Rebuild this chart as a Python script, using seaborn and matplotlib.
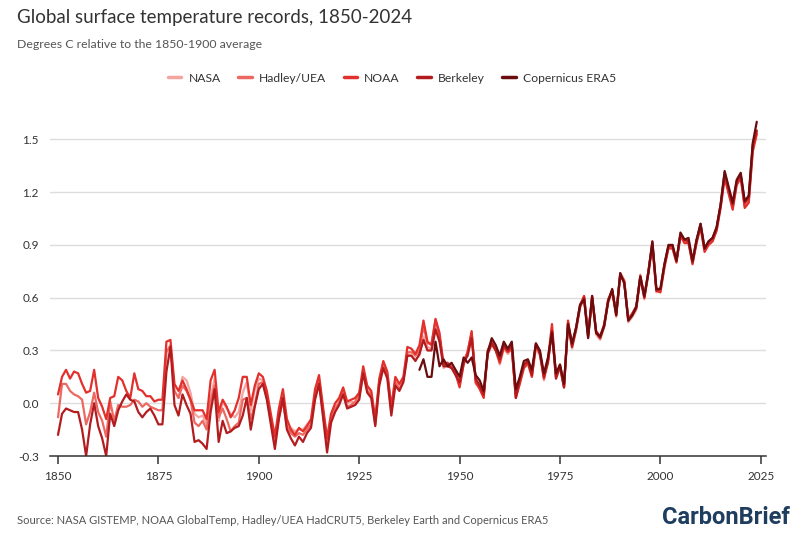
import numpy as np
import pandas as pd
import matplotlib
matplotlib.use("Agg")
import matplotlib.pyplot as plt
import seaborn as sns

# annual anomalies, degrees C relative to 1850-1900
years_full = list(range(1850, 2025))
years_nasa = list(range(1880, 2025))
years_era5 = list(range(1940, 2025))

noaa = [
    0.05, 0.15, 0.19, 0.14, 0.18, 0.17, 0.11, 0.06, 0.07, 0.19,
    0.03, -0.02, -0.09, 0.03, 0.04, 0.15, 0.13, 0.07, 0.03, 0.17,
    0.08, 0.07, 0.04, 0.04, 0.01, 0.02, 0.02, 0.35, 0.36, 0.11,
    0.07, 0.13, 0.08, 0.02, -0.04, -0.04, -0.04, -0.09, 0.13, 0.19,
    -0.05, 0.02, -0.02, -0.08, -0.04, 0.03, 0.15, 0.15, -0.01, 0.10,
    0.17, 0.15, 0.07, -0.06, -0.19, -0.03, 0.08, -0.09, -0.15, -0.18,
    -0.14, -0.16, -0.13, -0.09, 0.08, 0.16, -0.02, -0.20, -0.06, 0.00,
    0.03, 0.09, 0.01, 0.02, 0.03, 0.06, 0.21, 0.10, 0.07, -0.09,
    0.14, 0.24, 0.18, -0.02, 0.15, 0.11, 0.15, 0.32, 0.31, 0.28,
    0.33, 0.47, 0.35, 0.33, 0.48, 0.40, 0.22, 0.23, 0.20, 0.17,
    0.09, 0.22, 0.29, 0.41, 0.12, 0.08, 0.03, 0.30, 0.35, 0.30,
    0.23, 0.32, 0.29, 0.31, 0.03, 0.11, 0.20, 0.23, 0.15, 0.33,
    0.29, 0.14, 0.25, 0.45, 0.16, 0.21, 0.09, 0.47, 0.33, 0.43,
    0.56, 0.61, 0.39, 0.61, 0.41, 0.38, 0.45, 0.59, 0.64, 0.51,
    0.73, 0.69, 0.48, 0.51, 0.55, 0.72, 0.60, 0.75, 0.90, 0.64,
    0.63, 0.77, 0.88, 0.88, 0.80, 0.95, 0.91, 0.91, 0.79, 0.91,
    1.00, 0.86, 0.90, 0.92, 0.98, 1.11, 1.28, 1.19, 1.10, 1.24,
    1.28, 1.11, 1.14, 1.43, 1.53,
]

hadley = [
    -0.08, 0.11, 0.11, 0.07, 0.05, 0.04, 0.02, -0.12, -0.05, 0.06,
    -0.05, -0.10, -0.19, 0.01, -0.10, -0.01, -0.02, -0.02, -0.01, 0.02,
    0.01, -0.02, 0.00, -0.02, -0.03, -0.04, -0.04, 0.29, 0.33, 0.07,
    0.03, 0.10, 0.07, 0.02, -0.11, -0.13, -0.10, -0.15, 0.01, 0.10,
    -0.08, -0.03, -0.09, -0.16, -0.13, -0.11, 0.02, 0.03, -0.09, -0.01,
    0.11, 0.12, 0.03, -0.10, -0.22, -0.08, 0.02, -0.13, -0.17, -0.19,
    -0.17, -0.18, -0.15, -0.12, 0.05, 0.13, -0.06, -0.24, -0.09, -0.03,
    0.00, 0.07, -0.02, -0.01, 0.01, 0.05, 0.18, 0.07, 0.05, -0.12,
    0.12, 0.21, 0.16, -0.05, 0.12, 0.08, 0.13, 0.29, 0.29, 0.27,
    0.30, 0.44, 0.34, 0.34, 0.47, 0.38, 0.22, 0.23, 0.21, 0.18,
    0.11, 0.24, 0.29, 0.40, 0.13, 0.10, 0.05, 0.29, 0.34, 0.31,
    0.24, 0.33, 0.30, 0.32, 0.05, 0.13, 0.21, 0.24, 0.17, 0.33,
    0.28, 0.15, 0.24, 0.42, 0.15, 0.22, 0.10, 0.46, 0.33, 0.42,
    0.55, 0.60, 0.39, 0.60, 0.41, 0.37, 0.44, 0.59, 0.64, 0.51,
    0.74, 0.70, 0.48, 0.51, 0.55, 0.73, 0.61, 0.75, 0.92, 0.65,
    0.64, 0.78, 0.89, 0.89, 0.81, 0.96, 0.92, 0.92, 0.80, 0.93,
    1.01, 0.87, 0.91, 0.93, 0.99, 1.12, 1.29, 1.20, 1.12, 1.25,
    1.29, 1.12, 1.15, 1.45, 1.54,
]

berkeley = [
    -0.18, -0.06, -0.03, -0.04, -0.05, -0.05, -0.15, -0.30, -0.12, 0.00,
    -0.13, -0.20, -0.30, -0.06, -0.13, -0.04, 0.01, 0.05, 0.02, 0.01,
    -0.05, -0.08, -0.05, -0.03, -0.07, -0.12, -0.12, 0.18, 0.32, -0.01,
    -0.07, 0.05, -0.01, -0.06, -0.22, -0.21, -0.23, -0.26, -0.05, 0.08,
    -0.22, -0.10, -0.17, -0.16, -0.14, -0.13, -0.07, 0.03, -0.15, -0.02,
    0.08, 0.11, 0.02, -0.12, -0.26, -0.09, 0.03, -0.15, -0.20, -0.24,
    -0.19, -0.22, -0.17, -0.14, 0.02, 0.11, -0.08, -0.28, -0.11, -0.05,
    -0.01, 0.05, -0.03, -0.02, -0.01, 0.02, 0.17, 0.06, 0.03, -0.13,
    0.10, 0.20, 0.14, -0.07, 0.10, 0.07, 0.12, 0.27, 0.27, 0.24,
    0.28, 0.36, 0.30, 0.30, 0.42, 0.35, 0.21, 0.21, 0.20, 0.16,
    0.12, 0.23, 0.27, 0.37, 0.14, 0.10, 0.05, 0.28, 0.34, 0.30,
    0.25, 0.33, 0.30, 0.33, 0.03, 0.14, 0.22, 0.24, 0.16, 0.34,
    0.28, 0.15, 0.23, 0.41, 0.14, 0.21, 0.09, 0.45, 0.32, 0.42,
    0.55, 0.60, 0.38, 0.60, 0.40, 0.37, 0.44, 0.58, 0.64, 0.50,
    0.73, 0.69, 0.47, 0.50, 0.54, 0.72, 0.60, 0.74, 0.91, 0.64,
    0.65, 0.79, 0.89, 0.90, 0.81, 0.96, 0.93, 0.92, 0.80, 0.92,
    1.02, 0.88, 0.92, 0.94, 1.00, 1.13, 1.31, 1.22, 1.13, 1.26,
    1.30, 1.14, 1.17, 1.47, 1.55,
]

nasa = [
    0.03, 0.15, 0.13, 0.06, -0.06, -0.08, -0.07, -0.12, 0.03, 0.14,
    -0.10, 0.01, -0.03, -0.06, -0.08, -0.05, 0.06, 0.12, -0.04, 0.08,
    0.14, 0.13, 0.05, -0.08, -0.18, -0.08, 0.01, -0.14, -0.14, -0.16,
    -0.15, -0.15, -0.12, -0.10, 0.03, 0.11, -0.04, -0.20, -0.06, -0.02,
    0.02, 0.08, 0.00, 0.01, 0.00, 0.03, 0.17, 0.09, 0.06, -0.10,
    0.13, 0.23, 0.17, -0.03, 0.14, 0.10, 0.14, 0.28, 0.27, 0.25,
    0.27, 0.38, 0.32, 0.31, 0.44, 0.36, 0.20, 0.22, 0.21, 0.16,
    0.10, 0.22, 0.30, 0.39, 0.11, 0.09, 0.04, 0.28, 0.33, 0.30,
    0.22, 0.31, 0.28, 0.31, 0.04, 0.12, 0.20, 0.22, 0.15, 0.31,
    0.27, 0.13, 0.23, 0.41, 0.14, 0.20, 0.09, 0.44, 0.31, 0.41,
    0.54, 0.61, 0.37, 0.59, 0.39, 0.36, 0.43, 0.57, 0.63, 0.49,
    0.72, 0.69, 0.46, 0.49, 0.53, 0.71, 0.59, 0.73, 0.89, 0.63,
    0.64, 0.78, 0.89, 0.89, 0.80, 0.97, 0.92, 0.93, 0.81, 0.92,
    1.01, 0.87, 0.90, 0.93, 0.99, 1.13, 1.30, 1.21, 1.11, 1.26,
    1.29, 1.13, 1.16, 1.46, 1.55,
]

era5 = [
    0.19, 0.25, 0.15, 0.15, 0.35, 0.21, 0.25, 0.21, 0.23, 0.19,
    0.15, 0.26, 0.23, 0.26, 0.16, 0.13, 0.07, 0.29, 0.37, 0.33,
    0.27, 0.35, 0.31, 0.35, 0.08, 0.15, 0.24, 0.25, 0.19, 0.34,
    0.30, 0.17, 0.26, 0.40, 0.17, 0.22, 0.11, 0.45, 0.34, 0.43,
    0.56, 0.59, 0.37, 0.61, 0.40, 0.38, 0.44, 0.58, 0.65, 0.50,
    0.74, 0.68, 0.47, 0.50, 0.55, 0.72, 0.61, 0.74, 0.92, 0.65,
    0.65, 0.79, 0.90, 0.90, 0.81, 0.97, 0.93, 0.94, 0.81, 0.93,
    1.02, 0.88, 0.92, 0.94, 1.00, 1.13, 1.32, 1.23, 1.14, 1.27,
    1.31, 1.15, 1.18, 1.48, 1.60,
]

series_names = ["NASA", "Hadley/UEA", "NOAA", "Berkeley", "Copernicus ERA5"]
series_colors = ["#f5a5a1", "#eb6962", "#e2302c", "#b31c1f", "#6b0c0e"]

frames = [
    pd.DataFrame({"year": years_nasa, "anomaly": nasa, "dataset": "NASA"}),
    pd.DataFrame({"year": years_full, "anomaly": hadley, "dataset": "Hadley/UEA"}),
    pd.DataFrame({"year": years_full, "anomaly": noaa, "dataset": "NOAA"}),
    pd.DataFrame({"year": years_full, "anomaly": berkeley, "dataset": "Berkeley"}),
    pd.DataFrame({"year": years_era5, "anomaly": era5, "dataset": "Copernicus ERA5"}),
]
df = pd.concat(frames, ignore_index=True)

sns.set_theme(style="white")
plt.rcParams["font.family"] = ["Lato", "DejaVu Sans"]

fig = plt.figure(figsize=(8.1, 5.38), dpi=100)
ax = fig.add_axes([0.0617, 0.1524, 0.884, 0.6376])

sns.lineplot(data=df, x="year", y="anomaly", hue="dataset",
             hue_order=series_names, palette=series_colors,
             linewidth=1.6, ax=ax, legend=False)

ax.set_xlim(1848, 2026.3)
ax.set_ylim(-0.3, 1.65)
ax.set_xticks([1850, 1875, 1900, 1925, 1950, 1975, 2000, 2025])
ax.set_yticks([-0.3, 0.0, 0.3, 0.6, 0.9, 1.2, 1.5])
ax.set_yticklabels(["-0.3", "0.0", "0.3", "0.6", "0.9", "1.2", "1.5"])
ax.set_xlabel("")
ax.set_ylabel("")
ax.grid(axis="y", color="#dddddd", linewidth=1)
ax.grid(axis="x", visible=False)
for s in ["top", "right", "left"]:
    ax.spines[s].set_visible(False)
ax.spines["bottom"].set_color("#333333")
ax.spines["bottom"].set_linewidth(1.1)
ax.tick_params(axis="x", direction="out", length=6, width=1.1, color="#333333",
               labelsize=8.5, labelcolor="#333333", pad=5, bottom=True)
ax.tick_params(axis="y", length=0, labelsize=8.5, labelcolor="#333333", pad=8)

# legend
handles = [plt.Line2D([0], [0], color=c, linewidth=2.5) for c in series_colors]
fig.legend(handles, series_names, loc="center", bbox_to_anchor=(0.484, 0.855),
           ncol=5, frameon=False, fontsize=8.7, handlelength=1.1,
           handletextpad=0.6, columnspacing=1.45, labelcolor="#333333")

fig.text(17 / 810, 1 - 18 / 538, "Global surface temperature records, 1850-2024",
         fontsize=13.5, color="#333333", va="center", ha="left")
fig.text(17 / 810, 1 - 44 / 538, "Degrees C relative to the 1850-1900 average",
         fontsize=8.8, color="#555555", va="center", ha="left")
fig.text(17 / 810, 1 - 521 / 538,
         "Source: NASA GISTEMP, NOAA GlobalTemp, Hadley/UEA HadCRUT5, Berkeley Earth and Copernicus ERA5",
         fontsize=8, color="#555555", va="center", ha="left")
fig.text(790 / 810, 1 - 517 / 538, "CarbonBrief", fontsize=17, fontweight="bold",
         color="#1f3d5f", va="center", ha="right",
         family=["Roboto", "DejaVu Sans"])

fig.savefig("out.png", dpi=100)
